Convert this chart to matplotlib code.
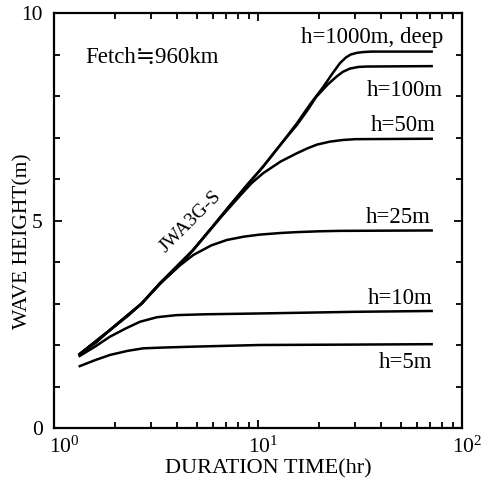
import numpy as np
import matplotlib.pyplot as plt
import matplotlib.transforms as mtransforms
from matplotlib.ticker import MultipleLocator, FixedLocator

plt.rcParams['font.family'] = ['Liberation Serif', 'DejaVu Serif']
plt.rcParams['mathtext.fontset'] = 'custom'
plt.rcParams['mathtext.rm'] = 'Liberation Serif'

# duration (hr) and wave height (m), one pair per depth
t_deep = [1.32, 1.6, 1.88, 2.3, 2.69, 3.31, 4.0, 4.81, 6.0, 7.3, 8.8, 10.6, 13.0, 15.5, 18.0, 20.9, 23.0, 25.2, 27.0, 28.5, 30.5, 33.0, 36.0, 72.0]
H_deep = [1.76, 2.05, 2.36, 2.70, 3.00, 3.49, 3.85, 4.29, 4.85, 5.37, 5.85, 6.30, 6.85, 7.34, 7.80, 8.22, 8.52, 8.79, 8.93, 9.00, 9.04, 9.06, 9.07, 9.07]

t_100 = [1.32, 1.88, 2.69, 3.31, 4.81, 7.3, 10.6, 13.0, 15.5, 17.5, 19.3, 22.0, 24.3, 26.0, 28.2, 31.0, 34.0, 72.0]
H_100 = [1.76, 2.36, 3.00, 3.49, 4.29, 5.37, 6.30, 6.85, 7.30, 7.66, 7.98, 8.28, 8.47, 8.58, 8.66, 8.70, 8.71, 8.72]

t_50 = [1.32, 1.88, 2.69, 3.31, 4.81, 6.5, 8.17, 9.3, 10.6, 12.9, 15.5, 17.5, 19.5, 22.5, 26.0, 30.0, 72.0]
H_50 = [1.76, 2.36, 3.00, 3.49, 4.29, 5.05, 5.60, 5.90, 6.14, 6.42, 6.62, 6.74, 6.83, 6.90, 6.94, 6.96, 6.97]

t_25 = [1.32, 1.88, 2.69, 3.31, 4.0, 4.82, 5.9, 7.03, 8.5, 10.2, 13.0, 15.5, 20.0, 25.0, 72.0]
H_25 = [1.76, 2.36, 3.00, 3.47, 3.86, 4.17, 4.40, 4.53, 4.61, 4.66, 4.70, 4.72, 4.74, 4.75, 4.76]

t_10 = [1.32, 1.6, 1.88, 2.25, 2.64, 3.2, 3.99, 5.5, 10.2, 30.0, 72.0]
H_10 = [1.72, 1.97, 2.20, 2.40, 2.56, 2.67, 2.72, 2.74, 2.76, 2.80, 2.82]

t_5 = [1.32, 1.6, 1.88, 2.3, 2.74, 3.5, 4.8, 10.2, 30.0, 72.0]
H_5 = [1.48, 1.64, 1.76, 1.86, 1.92, 1.94, 1.96, 2.00, 2.01, 2.02]

curves = [(t_deep, H_deep), (t_100, H_100), (t_50, H_50), (t_25, H_25), (t_10, H_10), (t_5, H_5)]
depth_labels = ['h=1000m, deep', 'h=100m', 'h=50m', 'h=25m', 'h=10m', 'h=5m']
label_pos = [(80.5, 9.40), (80.5, 8.14), (74.5, 7.28), (70.5, 5.08), (71.5, 3.13), (71.5, 1.59)]
xtick_vals = [1, 10, 100]
xtick_text = ['$\\mathregular{10^{0}}$', '$\\mathregular{10^{1}}$', '$\\mathregular{10^{2}}$']

fig = plt.figure(figsize=(4.91, 4.83), dpi=100)
ax = fig.add_axes([54/491, 55/483, 408/491, 415/483])

for t, H in curves:
    ax.plot(t, H, color='black', lw=1.8, solid_capstyle='butt')

for lab, (x, y) in zip(depth_labels, label_pos):
    ax.text(x, y, lab, ha='right', va='center', fontsize=16.5)

ax.text(1.42, 8.94, 'Fetch\u2252960km', ha='left', va='center', fontsize=16.5)
ax.text(4.66, 4.98, 'JWA3G-S', ha='center', va='center', fontsize=14, rotation=45)

ax.set_xscale('log')
ax.set_xlim(1, 100)
ax.set_ylim(0, 10)
ax.xaxis.set_major_locator(FixedLocator(xtick_vals))
ax.set_xticklabels(xtick_text)
ax.yaxis.set_major_locator(FixedLocator([0, 5, 10]))
ax.yaxis.set_minor_locator(MultipleLocator(1))
ax.tick_params(which='both', direction='in', top=True, right=True, width=1.3, labelsize=15.5)
ax.tick_params(which='major', length=6, pad=6)
ax.tick_params(which='minor', length=4)
ax.tick_params(axis='y', pad=8)
for s in ax.spines.values():
    s.set_linewidth(1.6)

# nudge the x tick labels to the right like the original
for i, lbl in enumerate(ax.get_xticklabels()):
    dx = 10 if i == 0 else 5
    lbl.set_transform(lbl.get_transform() + mtransforms.ScaledTranslation(dx/100, 0, fig.dpi_scale_trans))

ax.set_xlabel('DURATION TIME(hr)', fontsize=16)
ax.xaxis.set_label_coords(0.525, -0.075)
ax.set_ylabel('WAVE HEIGHT(m)', fontsize=15.5)
ax.yaxis.set_label_coords(-0.052, 0.45)

fig.savefig('out.png', dpi=100)
